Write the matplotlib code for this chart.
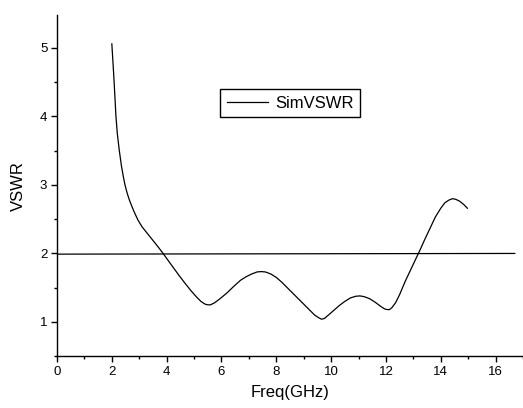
import matplotlib
matplotlib.use("Agg")
import matplotlib.pyplot as plt
from matplotlib.ticker import MultipleLocator

plt.rcParams['font.family'] = ['Liberation Sans', 'DejaVu Sans']

# simulated VSWR curve
freq = [2.0, 2.04, 2.08, 2.12, 2.15, 2.2, 2.27, 2.35, 2.42, 2.48, 2.56,
        2.64, 2.7, 2.8, 2.95, 3.1, 3.28, 3.5, 3.7, 3.87, 4.05, 4.25, 4.45,
        4.66, 4.9, 5.1, 5.25, 5.4, 5.5, 5.6, 5.75, 5.95, 6.19, 6.45, 6.7,
        6.9, 7.1, 7.3, 7.45, 7.6, 7.8, 8.0, 8.2, 8.4, 8.6, 8.8, 9.0, 9.2,
        9.4, 9.55, 9.65, 9.75, 9.9, 10.1, 10.3, 10.5, 10.7, 10.9, 11.05,
        11.2, 11.4, 11.6, 11.8, 11.95, 12.05, 12.13, 12.22, 12.35, 12.5,
        12.7, 12.9, 13.1, 13.22, 13.4, 13.6, 13.8, 14.0, 14.15, 14.3, 14.43,
        14.55, 14.7, 14.85, 14.97]
vswr = [5.06, 4.8, 4.53, 4.23, 4.0, 3.75, 3.51, 3.28, 3.12, 3.0, 2.88,
        2.78, 2.72, 2.62, 2.49, 2.39, 2.3, 2.19, 2.09, 2.0, 1.9, 1.79, 1.68,
        1.57, 1.45, 1.36, 1.3, 1.26, 1.25, 1.25, 1.28, 1.34, 1.42, 1.52, 1.61,
        1.66, 1.70, 1.73, 1.735, 1.73, 1.70, 1.65, 1.58, 1.5, 1.42, 1.34,
        1.26, 1.18, 1.1, 1.06, 1.04, 1.05, 1.1, 1.17, 1.24, 1.3, 1.35, 1.375,
        1.38, 1.37, 1.34, 1.29, 1.23, 1.19, 1.18, 1.18, 1.21, 1.28, 1.4,
        1.59, 1.76, 1.93, 2.03, 2.19, 2.36, 2.53, 2.66, 2.74, 2.78, 2.80,
        2.79, 2.76, 2.71, 2.66]

# reference line at VSWR = 2
ref_freq = [0.0, 16.7]
ref_vswr = [1.99, 2.0]

fig = plt.figure(figsize=(5.23, 4.08), dpi=100)
ax = fig.add_axes([0.109, 0.127, 0.891, 0.836])

ax.plot(freq, vswr, color='black', lw=0.9, label='SimVSWR')
ax.plot(ref_freq, ref_vswr, color='black', lw=0.9)

ax.set_xlim(0, 17)
ax.set_ylim(0.5, 5.48)
ax.xaxis.set_major_locator(MultipleLocator(2))
ax.xaxis.set_minor_locator(MultipleLocator(1))
ax.yaxis.set_major_locator(MultipleLocator(1))
ax.yaxis.set_minor_locator(MultipleLocator(0.5))

ax.spines['top'].set_visible(False)
ax.spines['right'].set_visible(False)
for s in ('left', 'bottom'):
    ax.spines[s].set_linewidth(1.0)
ax.tick_params(which='major', direction='out', length=4, width=1.0,
               labelsize=9.5, pad=3)
ax.tick_params(which='minor', direction='out', length=2.5, width=1.0)

ax.set_xlabel('Freq(GHz)', fontsize=12, labelpad=5)
ax.set_ylabel('VSWR', fontsize=12, labelpad=10)

leg = ax.legend(loc='upper left', bbox_to_anchor=(0.35, 0.783),
                borderaxespad=0, fontsize=12, handlelength=2.5,
                handletextpad=0.4, borderpad=0.4, fancybox=False,
                framealpha=1, edgecolor='black')
leg.get_frame().set_linewidth(1.0)

fig.savefig('out.png', dpi=100)
